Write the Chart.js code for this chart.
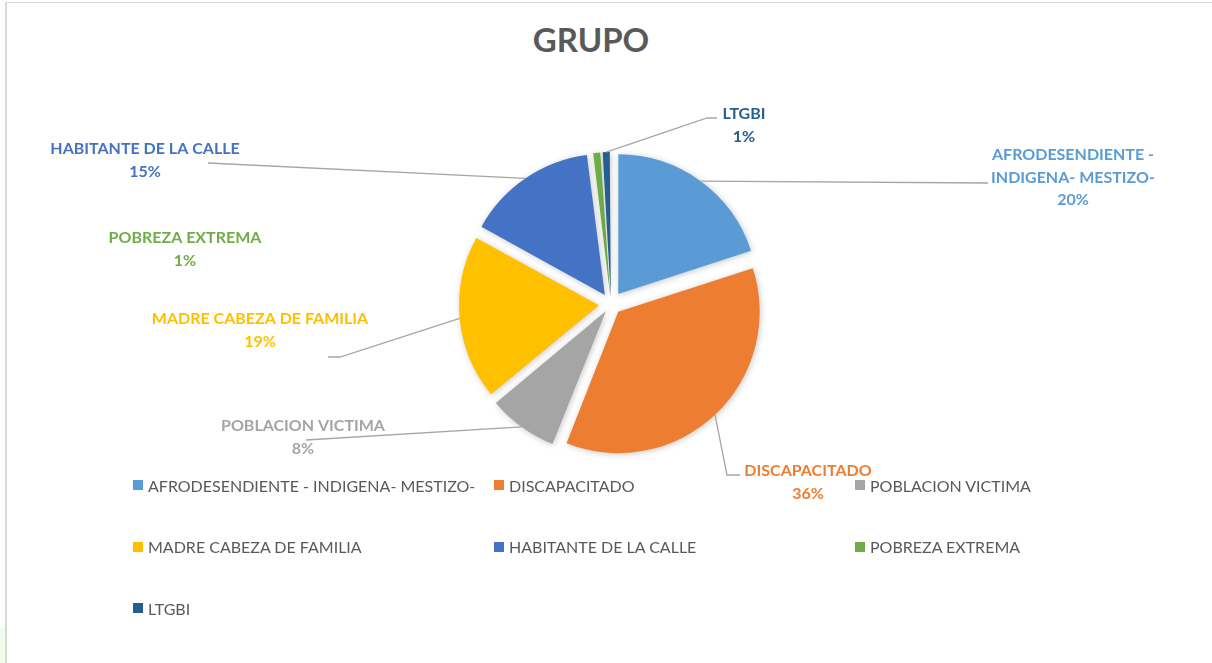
<!DOCTYPE html>
<html>
<head>
<meta charset="utf-8">
<script src="https://cdn.jsdelivr.net/npm/chart.js@4.4.1/dist/chart.umd.min.js"></script>
<style>
    html, body { margin: 0; padding: 0; background: #fff; }
    body { width: 1212px; height: 663px; position: relative; overflow: hidden; font-family: Lato, "Open Sans", sans-serif; }
    #frame { position: absolute; left: 5px; top: 2px; width: 1212px; height: 700px; border-top: 1px solid #d9d9d9; border-left: 2px solid #d9d9d9; }
    #tint { position: absolute; left: 0; top: 628px; width: 5px; height: 35px; background: #f1fbe9; }
    #title { position: absolute; left: 0; width: 1182px; top: 19px; text-align: center; font-size: 33px; font-weight: bold; color: #595959; }
    #chart { position: absolute; left: 0; top: 0; }
    #legend { position: absolute; left: 133px; top: 474px; display: grid; grid-template-columns: 361px 361px 361px; grid-auto-rows: 61.5px; }
    .item { display: flex; align-items: center; height: 22px; font-size: 16px; color: #595959; }
    .box { width: 10px; height: 10px; margin-right: 5px; }
</style>
</head>
<body>
<div id="frame"></div>
<div id="tint"></div>
<div id="title">GRUPO</div>
<canvas id="chart" width="1212" height="663"></canvas>
<div id="legend"></div>

<script>
const categories = [
    "AFRODESENDIENTE - INDIGENA- MESTIZO-",
    "DISCAPACITADO",
    "POBLACION VICTIMA",
    "MADRE CABEZA DE FAMILIA",
    "HABITANTE DE LA CALLE",
    "POBREZA EXTREMA",
    "LTGBI"
];
const shares = [20, 36, 8, 19, 15, 1, 1];
const colors = ["#5b9bd5", "#ed7d31", "#a5a5a5", "#ffc000", "#4472c4", "#70ad47", "#255e91"];

// where each data label sits, relative to the pie centre (text centre of first line),
// plus where its leader line ends and bends (null = no line)
const labelLayout = [
    { lines: ["AFRODESENDIENTE -", "INDIGENA- MESTIZO-"], tx: 462, ty: -149, end: [377, -121], elbow: null },
    { lines: ["DISCAPACITADO"], tx: 197, ty: 167, end: [129, 171], elbow: [116, 171] },
    { lines: ["POBLACION VICTIMA"], tx: -308, ty: 122, end: [-305, 136], elbow: null },
    { lines: ["MADRE CABEZA DE FAMILIA"], tx: -351, ty: 15, end: [-283, 53], elbow: [-271, 53] },
    { lines: ["HABITANTE DE LA CALLE"], tx: -466, ty: -155, end: [-403, -141], elbow: null },
    { lines: ["POBREZA EXTREMA"], tx: -426, ty: -66, end: null, elbow: null },
    { lines: ["LTGBI"], tx: 133, ty: -190, end: [106, -186], elbow: [96, -186] }
];

const EXPLODE = 13;

// chart.js moves an arc by offset/4*(1+fix); pick the offset that gives the same push for all
function offsetFor(ctx) {
    const data = ctx.dataset.data;
    const total = data.reduce((a, b) => a + b, 0);
    const circ = data[ctx.dataIndex] / total * Math.PI * 2;
    const fix = 1 - Math.sin(Math.min(Math.PI, circ));
    return 4 * EXPLODE / (1 + fix);
}

const shadowPlugin = {
    id: "shadow",
    beforeDatasetDraw(chart) {
        const c = chart.ctx;
        c.save();
        c.shadowColor = "rgba(0,0,0,0.22)";
        c.shadowBlur = 6;
        c.shadowOffsetX = 1;
        c.shadowOffsetY = 1;
    },
    afterDatasetDraw(chart) {
        chart.ctx.restore();
    }
};

const labelPlugin = {
    id: "sliceLabels",
    afterDatasetsDraw(chart) {
        const c = chart.ctx;
        const meta = chart.getDatasetMeta(0);
        const total = shares.reduce((a, b) => a + b, 0);
        meta.data.forEach((arc, i) => {
            const lay = labelLayout[i];
            const mid = (arc.startAngle + arc.endAngle) / 2;
            const r = arc.outerRadius + EXPLODE;
            const sx = arc.x + Math.cos(mid) * r;
            const sy = arc.y + Math.sin(mid) * r;

            if (lay.end) {
                c.save();
                c.strokeStyle = "#a6a6a6";
                c.lineWidth = 1.3;
                c.beginPath();
                c.moveTo(sx, sy);
                if (lay.elbow) c.lineTo(arc.x + lay.elbow[0], arc.y + lay.elbow[1]);
                c.lineTo(arc.x + lay.end[0], arc.y + lay.end[1]);
                c.stroke();
                c.restore();
            }

            const pct = Math.round(shares[i] / total * 100) + "%";
            const lines = lay.lines.concat([pct]);
            c.save();
            c.fillStyle = colors[i];
            c.font = "bold 16px Lato, 'Open Sans', sans-serif";
            c.textAlign = "center";
            c.textBaseline = "middle";
            lines.forEach((t, k) => {
                c.fillText(t, arc.x + lay.tx, arc.y + lay.ty + k * 22.5);
            });
            c.restore();
        });
    }
};

new Chart(document.getElementById("chart"), {
    type: "pie",
    data: {
        labels: categories,
        datasets: [{
            data: shares,
            backgroundColor: colors,
            borderWidth: 0,
            offset: offsetFor,
            radius: 139
        }]
    },
    options: {
        responsive: false,
        animation: false,
        layout: { padding: { left: 460, right: 450, top: 150, bottom: 205 } },
        plugins: {
            legend: { display: false },
            title: { display: false },
            tooltip: { enabled: false }
        }
    },
    plugins: [shadowPlugin, labelPlugin]
});

const legendDiv = document.getElementById("legend");
categories.forEach((name, i) => {
    const item = document.createElement("div");
    item.className = "item";
    item.innerHTML = `<span class="box" style="background:${colors[i]}"></span>${name}`;
    legendDiv.appendChild(item);
});
</script>
</body>
</html>
